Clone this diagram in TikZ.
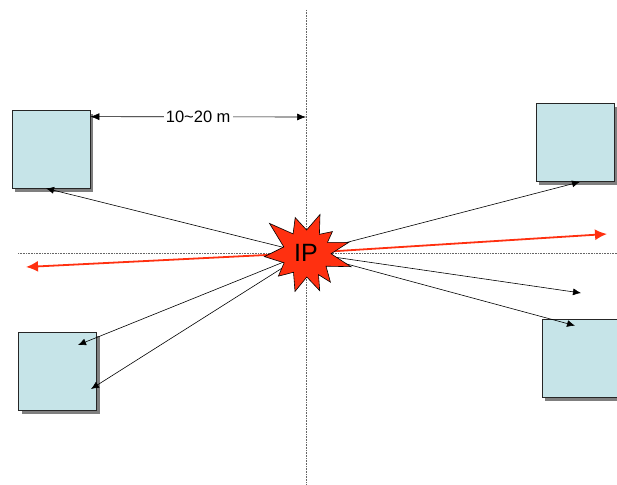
\documentclass[tikz,border=0pt]{standalone}
\usepackage{fontspec}
\setmainfont{Liberation Sans}
\usetikzlibrary{arrows.meta,shadows}
\definecolor{cellblue}{RGB}{198,228,232}
\definecolor{burstred}{RGB}{255,48,16}

\begin{document}
\begin{tikzpicture}[x=1pt,y=-1pt,>=Latex,
  cell/.style={draw=black!85,line width=0.7pt,fill=cellblue,minimum size=78pt,inner sep=0pt,drop shadow={shadow xshift=3pt,shadow yshift=-3.5pt,fill=black,opacity=0.5}},
  axisline/.style={densely dotted,black!60,line width=0.6pt},
  ray/.style={-{Latex[length=8pt,width=7pt]},line width=0.6pt},
  redray/.style={-{Latex[length=12pt,width=11pt]},draw=burstred,line width=1.8pt},
  dimline/.style={{Latex[length=9pt,width=7pt]}-{Latex[length=9pt,width=7pt]},line width=0.6pt},
  burst/.style={fill=burstred,draw=black,line width=0.6pt,line join=miter}]
\useasboundingbox (0,0) rectangle (617,484);
% axes through the IP
\coordinate (ipc) at (306,253);
\coordinate (vtop) at (306,10);
\coordinate (vbot) at (306,484);
\coordinate (hleft) at (18,253);
\coordinate (hright) at (617,253);
\draw[axisline] (vtop) -- (vbot);
\draw[axisline] (hleft) -- (hright);
% detectors
\node[cell] (tl) at (51,149) {};
\node[cell] (tr) at (575,142.5) {};
\node[cell] (bl) at (57.5,371.5) {};
\node[cell] (br) at (581,358) {};
% distance
\coordinate (dimend) at (306,117);
\draw[dimline] ([shift={(0,7)}]tl.north east) -- node[fill=white,inner xsep=2pt,inner ysep=1pt,font=\fontsize{16.5}{19}\selectfont] (dimlabel) {10\textasciitilde20 m} (dimend);
% rays
\coordinate (eright) at (581,293);
\coordinate (redright) at (607,234);
\coordinate (redleft) at (26,267);
\draw[ray] (ipc) -- ([xshift=-5pt]tl.south);
\draw[ray] (ipc) -- ([xshift=5pt]tr.south);
\draw[ray] (ipc) -- (eright);
\draw[ray] (ipc) -- ([shift={(-6,7)}]br.north);
\draw[ray] (ipc) -- ([shift={(20.5,-26.5)}]bl.center);
\draw[ray] (ipc) -- ([shift={(33.5,17.5)}]bl.center);
\draw[redray] (ipc) -- (redright);
\draw[redray] (ipc) -- (redleft);
% starburst
\filldraw[burst] (269.5,223.4) -- (293.1,233.9) -- (295.2,217.6) -- (306.6,230.0) -- (320.0,214.5) -- (319.4,234.3) -- (332.4,231.6) -- (327.5,242.3) -- (348.7,242.4) -- (331.0,253.7) -- (350.9,266.7) -- (326.0,266.2) -- (330.4,282.1) -- (318.5,274.7) -- (319.7,290.6) -- (306.8,277.0) -- (295.0,291.4) -- (293.5,272.3) -- (278.4,276.1) -- (284.1,262.8) -- (264.4,256.6) -- (283.8,246.9) -- cycle;
\node[font=\fontsize{25}{30}\selectfont,inner sep=0pt] (ip) at (ipc) {IP};
\end{tikzpicture}
\end{document}
